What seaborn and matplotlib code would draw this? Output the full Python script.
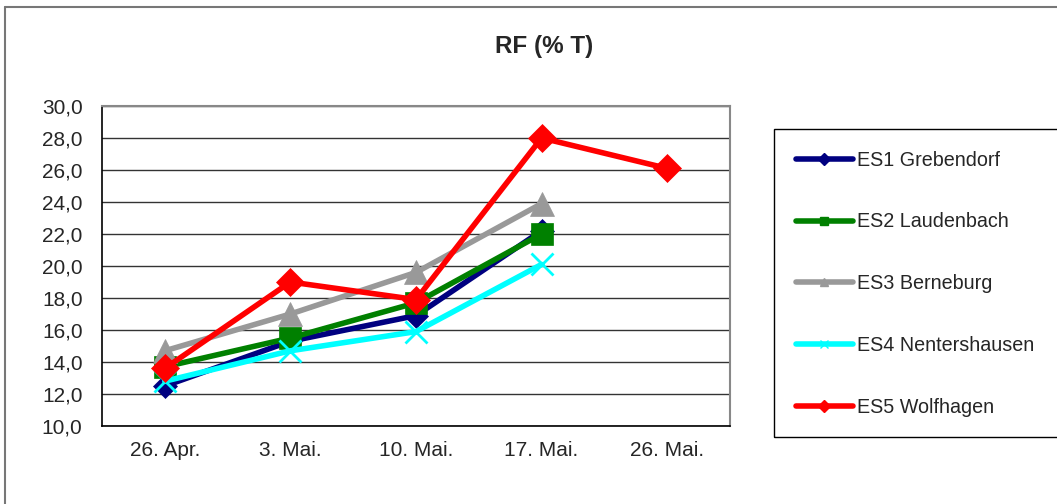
import numpy as np
import pandas as pd
import matplotlib
matplotlib.use("Agg")
import matplotlib.pyplot as plt
import seaborn as sns
from matplotlib.ticker import FixedLocator, FuncFormatter
from matplotlib.lines import Line2D
from matplotlib.patches import Rectangle

# Daten (RF % T)
dates = ["26. Apr.", "3. Mai.", "10. Mai.", "17. Mai.", "26. Mai."]
es1 = [12.5, 15.3, 16.9, 22.2, np.nan]
es2 = [13.7, 15.5, 17.7, 22.0, np.nan]
es3 = [14.7, 17.0, 19.6, 23.9, np.nan]
es4 = [12.8, 14.7, 15.9, 20.1, np.nan]
es5 = [13.6, 19.0, 17.9, 28.0, 26.1]
names = ["ES1 Grebendorf", "ES2 Laudenbach", "ES3 Berneburg",
         "ES4 Nentershausen", "ES5 Wolfhagen"]

series = [es1, es2, es3, es4, es5]
colors = ["#000080", "#008000", "#999999", "#00FFFF", "#FF0000"]
markers = ["D", "s", "^", "x", "D"]
msizes = [12, 16, 17, 16, 14]

sns.set_style("white")
plt.rcParams["font.family"] = ["Liberation Sans", "DejaVu Sans"]

W, H = 1057, 504
fig = plt.figure(figsize=(W / 100, H / 100), dpi=100)
ax = fig.add_axes([102 / W, 1 - 426 / H, 628 / W, 320 / H])

pos = np.arange(len(dates))
for name, vals, c, m, ms in zip(names, series, colors, markers, msizes):
    df = pd.DataFrame({"x": pos, "y": vals}).dropna()
    sns.lineplot(data=df, x="x", y="y", ax=ax, color=c, marker=m,
                 markersize=ms, linewidth=4, markeredgecolor=c,
                 markeredgewidth=2 if m == "x" else 0.5, legend=False)

ax.set_xlim(-0.5, len(dates) - 0.5)
ax.set_ylim(10, 30)
ax.set_yticks(np.arange(10, 31, 2))
ax.yaxis.set_major_formatter(FuncFormatter(lambda v, p: f"{v:.1f}".replace(".", ",")))
ax.xaxis.set_major_locator(FixedLocator(np.arange(-0.5, len(dates), 1)))
ax.xaxis.set_minor_locator(FixedLocator(pos))
ax.set_xticklabels([], minor=False)
ax.set_xticklabels(dates, minor=True)
ax.tick_params(axis="x", which="major", length=5, width=1, color="black", direction="out")
ax.tick_params(axis="x", which="minor", length=0, labelsize=15, pad=11)
ax.tick_params(axis="y", length=5, width=1, color="black", direction="out",
               labelsize=15, pad=9)
ax.grid(axis="y", color="#333333", linewidth=1)
ax.set_axisbelow(True)
ax.set_xlabel("")
ax.set_ylabel("")
for s in ["left", "bottom"]:
    ax.spines[s].set_color("black")
    ax.spines[s].set_linewidth(1.2)
for s in ["top", "right"]:
    ax.spines[s].set_color("#888888")
    ax.spines[s].set_linewidth(1.5)

fig.text(544 / W, 1 - 46 / H, "RF (% T)", ha="center", va="center",
         fontsize=17.5, fontweight="bold")

# Legende (Rahmen läuft rechts aus dem Bild)
fig.patches.append(Rectangle((774 / W, 1 - 437 / H), 300 / W, 308 / H,
                             transform=fig.transFigure, fill=False,
                             edgecolor="black", linewidth=1))
handles = [Line2D([], [], color=c, marker=m, markersize=6, linewidth=4,
                  markeredgecolor=c)
           for c, m in zip(colors, markers)]
fig.legend(handles, names, loc="upper left",
           bbox_to_anchor=(774 / W, 1 - 129 / H),
           frameon=False, fontsize=14.2,
           handlelength=2.9, handletextpad=0.2, labelspacing=2.17,
           borderpad=1.1, borderaxespad=0)

# äußerer Rahmen (nur links und oben sichtbar)
fig.add_artist(Line2D([5 / W, 1], [1 - 7 / H, 1 - 7 / H], transform=fig.transFigure,
                      color="#777777", linewidth=1.5))
fig.add_artist(Line2D([5 / W, 5 / W], [0, 1 - 7 / H], transform=fig.transFigure,
                      color="#777777", linewidth=1.5))

fig.savefig("out.png", dpi=100)
